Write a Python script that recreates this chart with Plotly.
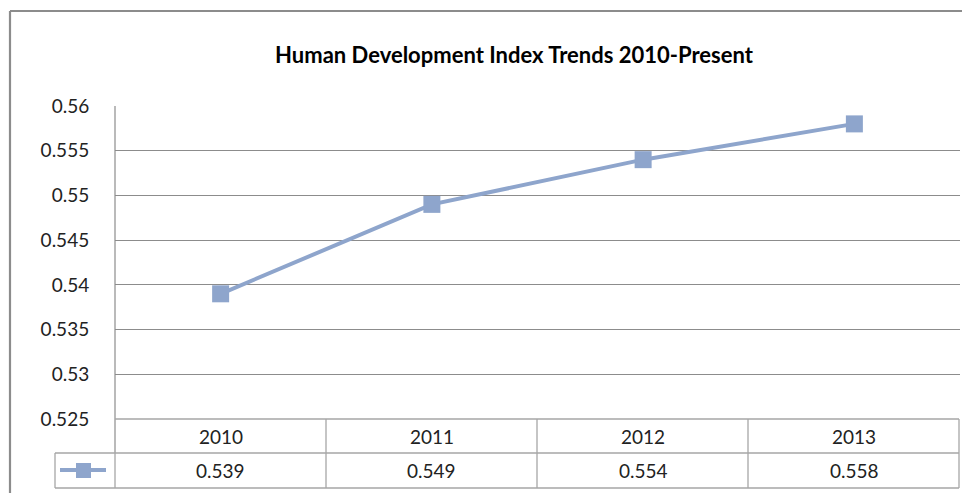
import plotly.graph_objects as go

years = ["2010", "2011", "2012", "2013"]
hdi = [0.539, 0.549, 0.554, 0.558]
value_labels = ["0.539", "0.549", "0.554", "0.558"]
y_ticks = [0.525, 0.53, 0.535, 0.54, 0.545, 0.55, 0.555, 0.56]
y_tick_labels = ["0.525", "0.53", "0.535", "0.54", "0.545", "0.55", "0.555", "0.56"]
title_text = "Human Development Index Trends 2010-Present"

W, H = 970, 493
OFF = 8  # page body margin offset
L, R, T, B = 115, 960, 106, 419  # plot area in screen pixels
PW, PH = R - L, B - T

def px(x):
    return (x - L) / PW

def py(y):
    return (B - y) / PH

LINE = "#8EA5CC"
FONT = "Lato, 'Open Sans', sans-serif"
xs = list(range(len(years)))

fig = go.Figure()
fig.add_trace(go.Scatter(
    x=xs, y=hdi, mode="lines+markers",
    line=dict(color=LINE, width=4),
    marker=dict(symbol="square", size=17, color=LINE),
    showlegend=False, cliponaxis=False,
))

shapes = []
tc = "#A6A6A6"
def hline(y, x0, x1, color=tc, w=1.3):
    shapes.append(dict(type="line", xref="paper", yref="paper",
                       x0=px(x0), x1=px(x1), y0=py(y), y1=py(y),
                       line=dict(color=color, width=w)))
def vline(x, y0, y1, color=tc, w=1.3):
    shapes.append(dict(type="line", xref="paper", yref="paper",
                       x0=px(x), x1=px(x), y0=py(y0), y1=py(y1),
                       line=dict(color=color, width=w)))

# outer chart border
hline(11, 10, 990, color="#8C8C8C", w=2.2)
vline(10, 11, 510, color="#8C8C8C", w=2.2)
# plot area left border
vline(L, T, 453, color="#8C8C8C", w=1.2)
# data table
hline(B, L, 959)
hline(453, 55, 959)
hline(488, 55, 959)
vline(55, 453, 488)
vline(L, 453, 488)
col_w = (959 - L) / len(years)
for i in range(1, len(years) + 1):
    vline(L + col_w * i, B, 488)
# legend key in table
shapes.append(dict(type="line", xref="paper", yref="paper",
                   x0=px(60), x1=px(106), y0=py(470), y1=py(470),
                   line=dict(color=LINE, width=4)))
shapes.append(dict(type="rect", xref="paper", yref="paper",
                   x0=px(76), x1=px(91), y0=py(463), y1=py(478),
                   line=dict(width=0), fillcolor=LINE))

annotations = []
for i, (yr, lab) in enumerate(zip(years, value_labels)):
    annotations.append(dict(x=i, xref="x", y=py(436), yref="paper", text=yr,
                            showarrow=False, yanchor="middle",
                            font=dict(size=19, color="#222", family=FONT)))
    annotations.append(dict(x=i, xref="x", y=py(470.5), yref="paper", text=lab,
                            showarrow=False, yanchor="middle",
                            font=dict(size=19, color="#222", family=FONT)))

fig.update_layout(
    width=W, height=H,
    margin=dict(l=L - OFF, r=W - (R - OFF), t=T - OFF, b=H - (B - OFF), pad=0),
    paper_bgcolor="white", plot_bgcolor="white",
    title=dict(text="<b>" + title_text + "</b>", xref="container", yref="container",
               x=(514 - OFF) / W, xanchor="center", y=1 - (55 - OFF) / H, yanchor="middle",
               font=dict(size=22, color="#000", family=FONT)),
    xaxis=dict(range=[-0.5, len(years) - 0.5], showticklabels=False, showgrid=False,
               zeroline=False, showline=False, ticks=""),
    yaxis=dict(range=[0.525, 0.56], tickvals=y_ticks, ticktext=y_tick_labels,
               showgrid=True, gridcolor="#8C8C8C", gridwidth=1, zeroline=False,
               showline=False, ticks="outside", ticklen=21, tickcolor="rgba(0,0,0,0)",
               tickfont=dict(size=19, color="#222", family=FONT)),
    shapes=shapes, annotations=annotations,
)

fig.write_html("out.html")
